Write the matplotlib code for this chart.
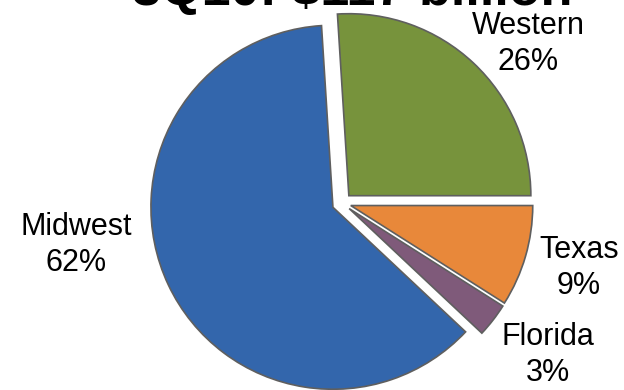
import matplotlib
matplotlib.use("Agg")
import matplotlib.pyplot as plt

plt.rcParams['font.family'] = ['Liberation Sans', 'DejaVu Sans']

# Revenue split by region
regions = ["Western", "Texas", "Florida", "Midwest"]
shares = [26, 9, 3, 62]
colors = ["#77933C", "#E8883A", "#7F5A7A", "#3366AC"]
title = "3Q10: $117 billion"

W, H = 624, 390
R = 182.0          # pie radius in pixels
cx, cy = 342, 203  # pie centre, pixels from top-left

fig = plt.figure(figsize=(W / 100, H / 100), dpi=100)
ax = fig.add_axes([0, 0, 1, 1])

ax.pie(shares, colors=colors, startangle=93.6, counterclock=False,
       explode=[0.055, 0.05, 0.05, 0.055], radius=1.0, center=(0, 0),
       wedgeprops=dict(edgecolor="#5f5f5f", linewidth=1.2))

ax.set_xlim(-cx / R, (W - cx) / R)
ax.set_ylim(-(H - cy) / R, cy / R)
ax.set_aspect("equal")
ax.axis("off")


def px(x, y):
    # pixel position -> data coordinates
    return (x - cx) / R, (cy - y) / R


label_pos = {"Western": (528, 44), "Texas": (579, 268),
             "Florida": (548, 355), "Midwest": (76, 245)}
for name, val in zip(regions, shares):
    x, y = px(*label_pos[name])
    ax.text(x, y, f"{name}\n{val}%", ha="center", va="center",
            fontsize=22, linespacing=1.3, color="black")

tx, ty = px(352, 5)
ax.text(tx, ty, title, ha="center", va="baseline", fontsize=37.5,
        fontweight="bold", color="black")

fig.savefig("out.png", dpi=100)
